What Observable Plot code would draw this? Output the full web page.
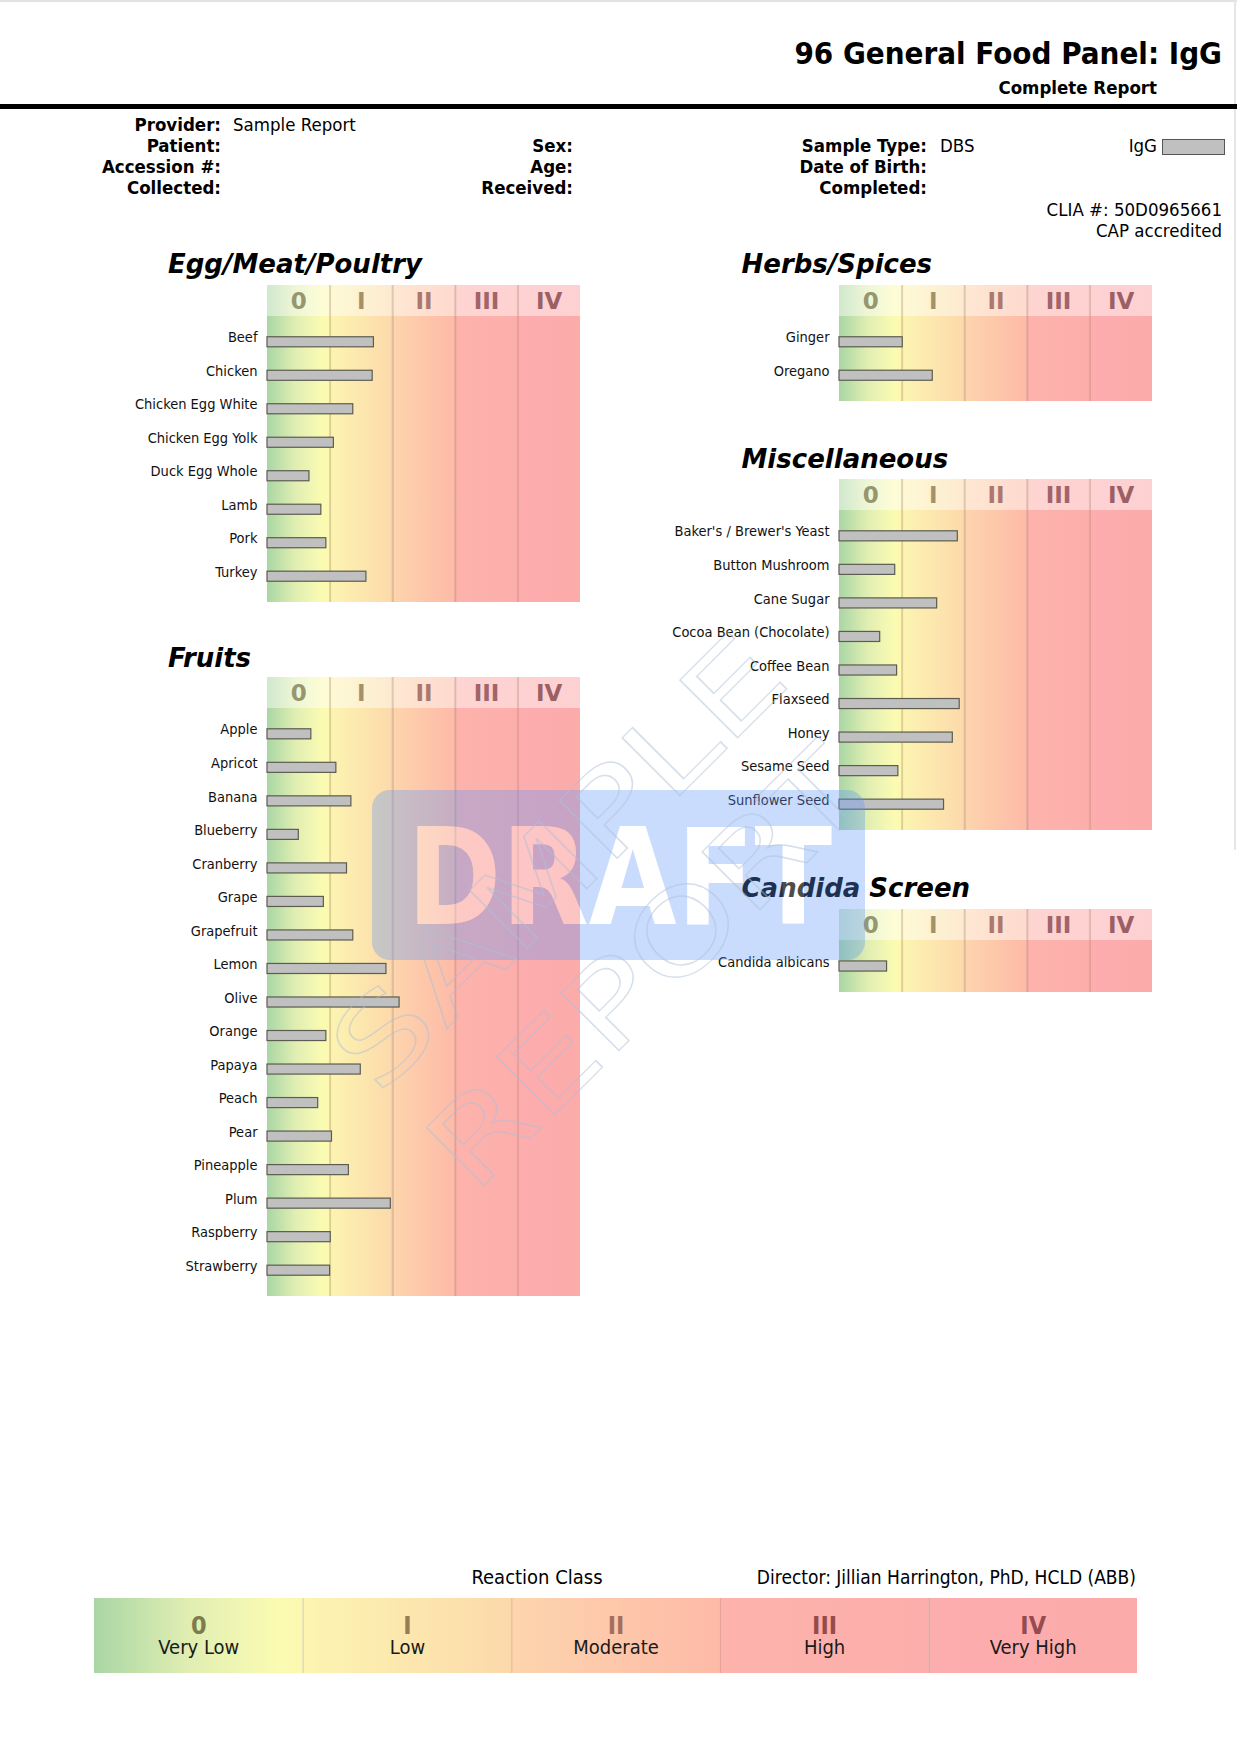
<!DOCTYPE html>
<html>
<head>
<meta charset="utf-8">
<script src="https://cdn.jsdelivr.net/npm/d3@7"></script>
<script src="https://cdn.jsdelivr.net/npm/@observablehq/plot@0.6"></script>
<style>
  html, body { margin: 0; padding: 0; background: #fff; }
  #page { position: relative; width: 1237px; height: 1750px; overflow: hidden; background: #fff; }
</style>
</head>
<body>
<div id="page"></div>
<svg id="defs" width="0" height="0" style="position:absolute;left:0;top:0"><defs></defs></svg>
<script>
// ---------------- DATA ----------------
const classes = [0, 1, 2, 3, 4];
const classNumerals = ["0", "I", "II", "III", "IV"];
const classNames = ["Very Low", "Low", "Moderate", "High", "Very High"];

const eggFoods = ["Beef", "Chicken", "Chicken Egg White", "Chicken Egg Yolk", "Duck Egg Whole", "Lamb", "Pork", "Turkey"];
const eggValues = [1.70, 1.68, 1.37, 1.06, 0.67, 0.86, 0.94, 1.58];

const herbFoods = ["Ginger", "Oregano"];
const herbValues = [1.01, 1.49];

const miscFoods = ["Baker's / Brewer's Yeast", "Button Mushroom", "Cane Sugar", "Cocoa Bean (Chocolate)", "Coffee Bean", "Flaxseed", "Honey", "Sesame Seed", "Sunflower Seed"];
const miscValues = [1.89, 0.89, 1.56, 0.65, 0.92, 1.92, 1.81, 0.94, 1.67];

const fruitFoods = ["Apple", "Apricot", "Banana", "Blueberry", "Cranberry", "Grape", "Grapefruit", "Lemon", "Olive", "Orange", "Papaya", "Peach", "Pear", "Pineapple", "Plum", "Raspberry", "Strawberry"];
const fruitValues = [0.70, 1.10, 1.34, 0.50, 1.27, 0.90, 1.37, 1.90, 2.11, 0.94, 1.49, 0.81, 1.03, 1.30, 1.97, 1.01, 1.00];

const candidaFoods = ["Candida albicans"];
const candidaValues = [0.76];

// ---------------- STYLES ----------------
const COND = '"DejaVu Sans Condensed", "DejaVu Sans", sans-serif';
const SANS = '"DejaVu Sans", sans-serif';
const bodyStops = [
  [[0, "#a9d6a5"], [0.45, "#e0eeb2"], [0.88, "#fbfbb2"], [1, "#fcf8b0"]],
  [[0, "#fcf5b1"], [1, "#fcd9ab"]],
  [[0, "#fdd5ad"], [1, "#fdbaa8"]],
  [[0, "#fdb3ab"], [1, "#fcaeac"]],
  [[0, "#fcadad"], [1, "#fcabab"]]
];
const headerNumeralColors = ["#969670", "#a59169", "#aa786e", "#a06469", "#9b5f64"];
const legendNumeralColors = ["#7d7d4b", "#967d55", "#a56e5f", "#964b4b", "#964b50"];
const dividerColor = "#a0705a";

// gradients
const defs = d3.select("#defs defs");
function addGrad(id, stops) {
  const g = defs.append("linearGradient").attr("id", id).attr("x1", 0).attr("x2", 1).attr("y1", 0).attr("y2", 0);
  stops.forEach(([o, c]) => g.append("stop").attr("offset", o).attr("stop-color", c));
}
classes.forEach(c => {
  addGrad("gb" + c, bodyStops[c]);
  addGrad("gh" + c, bodyStops[c].map(([o, col]) => [o, d3.interpolateRgb(col, "#ffffff")(0.45)]));
});

const page = document.getElementById("page");

function label(text, x, baseline, opts = {}) {
  const size = opts.size || 19;
  const d = document.createElement("div");
  d.textContent = text;
  d.style.cssText = `position:absolute;white-space:nowrap;font-family:${opts.family || COND};font-size:${size}px;line-height:${size}px;font-weight:${opts.weight || "normal"};font-style:${opts.style || "normal"};color:${opts.color || "#000"};top:${baseline - 0.846 * size}px;`;
  const anchor = opts.anchor || "start";
  if (anchor === "start") d.style.left = x + "px";
  else if (anchor === "end") d.style.right = (1237 - x) + "px";
  else { d.style.left = x + "px"; d.style.transform = "translateX(-50%)"; }
  page.appendChild(d);
  return d;
}
function box(left, top, w, h, css) {
  const d = document.createElement("div");
  d.style.cssText = `position:absolute;left:${left}px;top:${top}px;width:${w}px;height:${h}px;${css}`;
  page.appendChild(d);
}
function put(svg, left, top) {
  svg.style.position = "absolute";
  svg.style.left = left + "px";
  svg.style.top = top + "px";
  page.appendChild(svg);
}

// ---------------- PAGE HEADER ----------------
box(0, 0, 1237, 2, "background:#e2e2e2");
box(1234, 0, 2, 850, "background:#e6e6e6");
label("96 General Food Panel: IgG", 1222, 64, {size: 31, weight: "bold", anchor: "end"});
label("Complete Report", 1157, 95, {size: 18.5, weight: "bold", anchor: "end"});
box(0, 104, 1237, 5, "background:#000");

const rows = [132, 153, 174, 195];
[["Provider:", 0], ["Patient:", 1], ["Accession #:", 2], ["Collected:", 3]].forEach(([t, i]) =>
  label(t, 221, rows[i], {size: 18.5, weight: "bold", anchor: "end"}));
label("Sample Report", 233, rows[0], {size: 18.5});
[["Sex:", 1], ["Age:", 2], ["Received:", 3]].forEach(([t, i]) =>
  label(t, 573, rows[i], {size: 18.5, weight: "bold", anchor: "end"}));
[["Sample Type:", 1], ["Date of Birth:", 2], ["Completed:", 3]].forEach(([t, i]) =>
  label(t, 927, rows[i], {size: 18.5, weight: "bold", anchor: "end"}));
label("DBS", 940, rows[1], {size: 18.5});
label("IgG", 1157, rows[1], {size: 18.5, anchor: "end"});
box(1162, 139, 61, 14, "background:#c0c0c0;border:1.5px solid #555");
label("CLIA #: 50D0965661", 1222, 217, {size: 18.5, anchor: "end"});
label("CAP accredited", 1222, 238, {size: 18.5, anchor: "end"});

// ---------------- PANELS ----------------
const PANEL_W = 313;
function panel(title, foods, values, panelLeft, titleLeft, titleBaseline, headerTop) {
  const ml = panelLeft < 600 ? 150 : 190;
  const mr = 2;
  label(title, titleLeft, titleBaseline, {size: 26, weight: "bold", style: "oblique", family: SANS});

  const bgMarks = (prefix) => [
    ...classes.map(c => Plot.rect([c], {x1: d => d, x2: d => d + 1, fill: `url(#${prefix}${c})`})),
    Plot.ruleX(classes.slice(1), {stroke: dividerColor, strokeOpacity: 0.3, strokeWidth: 2})
  ];

  const header = Plot.plot({
    width: ml + PANEL_W + mr, height: 31,
    marginLeft: ml, marginRight: mr, marginTop: 0, marginBottom: 0,
    x: {domain: [0, 5], axis: null},
    color: {type: "identity"},
    style: {background: "transparent", fontFamily: SANS},
    marks: [
      ...bgMarks("gh"),
      Plot.text(classes, {
        x: d => d + 0.5, text: d => classNumerals[d], fill: d => headerNumeralColors[d],
        frameAnchor: "middle", lineAnchor: "middle", dy: 1, fontSize: 23, fontWeight: "bold"
      })
    ]
  });
  put(header, panelLeft - ml, headerTop);

  const n = foods.length;
  const H = Math.round(33.5 * n + 18);
  const data = foods.map((f, i) => ({food: f, value: values[i]}));
  const body = Plot.plot({
    width: ml + PANEL_W + mr, height: H,
    marginLeft: ml, marginRight: mr, marginTop: 0, marginBottom: 0,
    x: {domain: [0, 5], axis: null},
    y: {domain: foods, paddingInner: 0.7, paddingOuter: 0.62, round: false, label: null},
    style: {background: "transparent", fontFamily: COND, color: "#111"},
    marks: [
      ...bgMarks("gb"),
      Plot.barX(data, {x: "value", y: "food", fill: "#c0c0c0", stroke: "#5c5c50", strokeWidth: 1.2}),
      Plot.axisY({tickSize: 0, tickPadding: 10, fontSize: 14.5, dy: -4.5, label: null})
    ]
  });
  put(body, panelLeft - ml, headerTop + 31);
}

panel("Egg/Meat/Poultry", eggFoods, eggValues, 266.7, 168, 273, 285);
panel("Fruits", fruitFoods, fruitValues, 266.7, 168, 666.5, 677);
panel("Herbs/Spices", herbFoods, herbValues, 839.3, 741.5, 273, 284.5);
panel("Miscellaneous", miscFoods, miscValues, 839.3, 741.5, 467.5, 479);
panel("Candida Screen", candidaFoods, candidaValues, 839.3, 741.5, 897, 909);

// ---------------- LEGEND ----------------
label("Reaction Class", 537, 1584, {size: 20, anchor: "middle"});
label("Director: Jillian Harrington, PhD, HCLD (ABB)", 1136, 1584, {size: 19, anchor: "end"});

const legend = Plot.plot({
  width: 1237, height: 75,
  marginLeft: 94, marginRight: 1237 - 1137, marginTop: 0, marginBottom: 0,
  x: {domain: [0, 5], axis: null},
  color: {type: "identity"},
  style: {background: "transparent", fontFamily: COND},
  marks: [
    ...classes.map(c => Plot.rect([c], {x1: d => d, x2: d => d + 1, fill: `url(#gb${c})`})),
    Plot.ruleX(classes.slice(1), {stroke: dividerColor, strokeOpacity: 0.22, strokeWidth: 1.5}),
    Plot.text(classes, {
      x: d => d + 0.5, text: d => classNumerals[d], fill: d => legendNumeralColors[d],
      frameAnchor: "top", lineAnchor: "middle", dy: 27, fontSize: 25, fontWeight: "bold"
    }),
    Plot.text(classes, {
      x: d => d + 0.5, text: d => classNames[d], fill: "#1a1a1a",
      frameAnchor: "top", lineAnchor: "middle", dy: 49, fontSize: 20
    })
  ]
});
put(legend, 0, 1597.5);

// ---------------- WATERMARK ----------------
const wm = d3.create("svg").attr("width", 1237).attr("height", 1750)
  .style("position", "absolute").style("left", "0px").style("top", "0px").style("pointer-events", "none");
const mask = wm.append("defs").append("mask").attr("id", "draftMask");
mask.append("rect").attr("width", 1237).attr("height", 1750).attr("fill", "white");
mask.append("text").attr("x", 619.5).attr("y", 924).attr("text-anchor", "middle")
  .attr("font-family", "DejaVu Sans").attr("font-weight", "bold").attr("font-size", 134)
  .attr("textLength", 425).attr("lengthAdjust", "spacingAndGlyphs").attr("fill", "black").text("DRAFT");
wm.append("rect").attr("x", 372).attr("y", 790).attr("width", 493).attr("height", 170).attr("rx", 18)
  .attr("fill", "#5a96fa").attr("fill-opacity", 0.33).attr("mask", "url(#draftMask)");
wm.append("text").attr("x", 619.5).attr("y", 924).attr("text-anchor", "middle")
  .attr("font-family", "DejaVu Sans").attr("font-weight", "bold").attr("font-size", 134)
  .attr("textLength", 425).attr("lengthAdjust", "spacingAndGlyphs").attr("fill", "#ffffff").attr("fill-opacity", 0.3).text("DRAFT");
[["SAMPLE", 561, 900, 587], ["REPORT", 650, 1005, 567]].forEach(([t, cx, cy, len]) => {
  wm.append("text").attr("x", cx).attr("y", cy).attr("text-anchor", "middle")
    .attr("transform", `rotate(-45 ${cx} ${cy - 35})`)
    .attr("font-family", "DejaVu Sans").attr("font-size", 112)
    .attr("textLength", len).attr("lengthAdjust", "spacingAndGlyphs")
    .attr("fill", "none").attr("stroke", "#aebfd8").attr("stroke-opacity", 0.5).attr("stroke-width", 1.3)
    .text(t);
});
page.appendChild(wm.node());
</script>
</body>
</html>
